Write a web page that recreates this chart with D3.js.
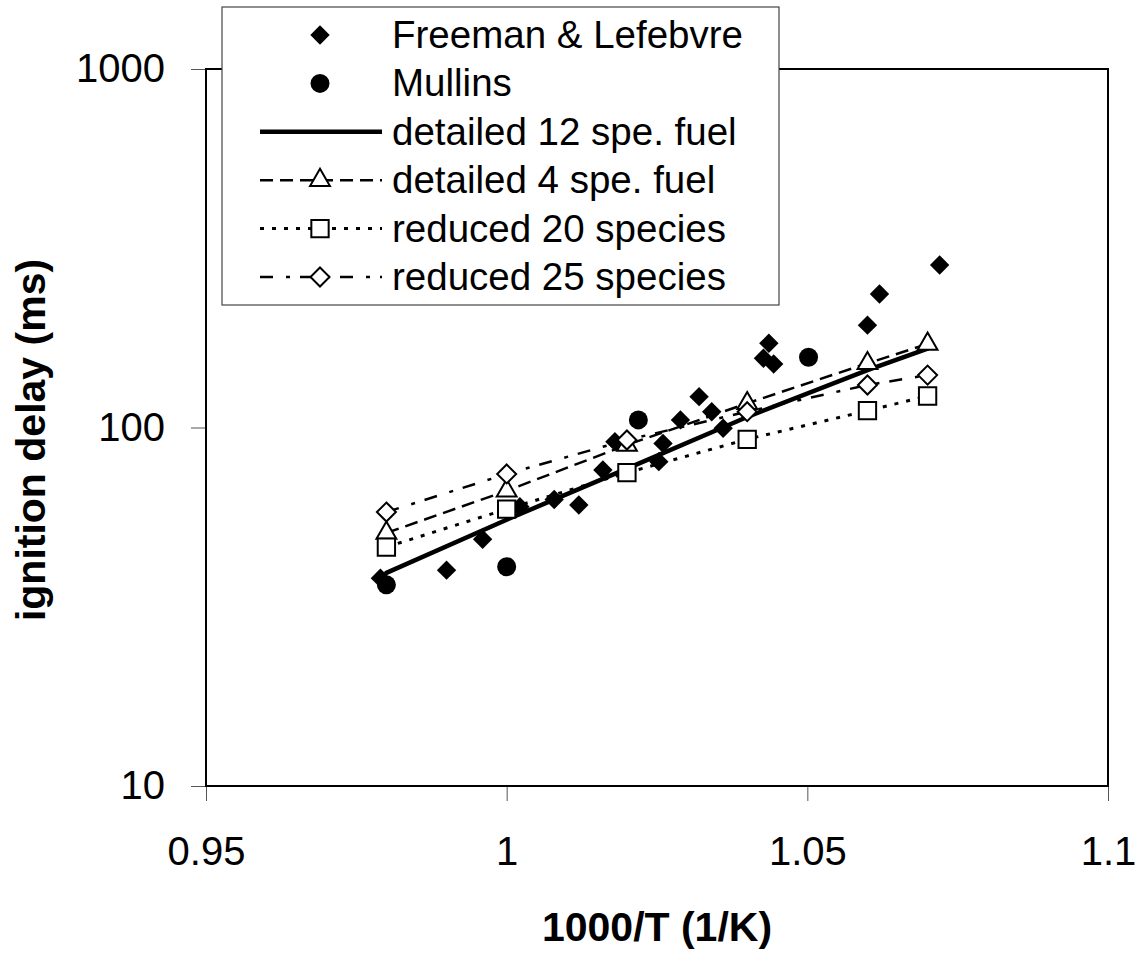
<!DOCTYPE html>
<html>
<head>
<meta charset="utf-8">
<script src="https://cdn.jsdelivr.net/npm/d3@7"></script>
<style>
  body { margin: 0; background: #fff; }
  text { font-family: "Liberation Sans", Arial, sans-serif; fill: #000; }
</style>
</head>
<body>
<svg></svg>
<script>
const freemanX = [0.979, 0.990, 0.996, 1.0022, 1.0079, 1.012, 1.016, 1.018, 1.0253, 1.026, 1.0289, 1.032, 1.0341, 1.036, 1.0427, 1.0436, 1.0444, 1.060, 1.062, 1.072]
const freemanY = [38, 40.0, 48.8, 60.1, 63.0, 60.8, 76.1, 91.3, 80.3, 90.3, 105, 121.9, 110.7, 99.5, 156, 171.8, 150.4, 193, 235.6, 284]

const mullinsX = [0.98, 1.0, 1.0219, 1.0502]
const mullinsY = [36.4, 40.9, 105, 157]

const modelX = [0.98, 1.0, 1.02, 1.04, 1.06, 1.07]
const detailed12 = [39.3, 55.3, 76.8, 107, 144.6, 166]
const detailed4 = [50.8, 66.6, 89.4, 116.8, 151, 171]
const reduced20 = [46.4, 59.2, 74.8, 92.7, 111.4, 122.4]
const reduced25 = [58.1, 74.2, 92.3, 110.7, 131.4, 140]

const xTicks = [0.95, 1, 1.05, 1.1]
const yTicks = [10, 100, 1000]

const legendLabels = ["Freeman & Lefebvre", "Mullins", "detailed 12 spe. fuel", "detailed 4 spe. fuel", "reduced 20 species", "reduced 25 species"]

const svg = d3.select("svg")
    .attr("width", 1143)
    .attr("height", 955)

const scaleX = d3.scaleLinear()
    .domain([0.95, 1.1])
    .range([206, 1108])

const scaleY = d3.scaleLog()
    .domain([10, 1000])
    .range([786, 69])

// ticks (drawn outward, grey)
const xAxis = svg.append("g")
    .attr("transform", "translate(0,786)")
    .call(d3.axisBottom(scaleX).tickValues(xTicks).tickSize(15).tickSizeOuter(0).tickPadding(36).tickFormat(d3.format("")))
xAxis.select(".domain").remove()
xAxis.selectAll("line").attr("stroke", "#555").attr("stroke-width", 1)
xAxis.selectAll("text")
    .attr("font-size", 40)
    .attr("font-family", "Liberation Sans, Arial, sans-serif")
    .attr("dy", "0.71em")

const yAxis = svg.append("g")
    .attr("transform", "translate(206,0)")
    .call(d3.axisLeft(scaleY).tickValues(yTicks).tickSize(15).tickSizeOuter(0).tickPadding(26).tickFormat(d3.format("")))
yAxis.select(".domain").remove()
yAxis.selectAll("line").attr("stroke", "#555").attr("stroke-width", 1)
yAxis.selectAll("text")
    .attr("font-size", 40)
    .attr("font-family", "Liberation Sans, Arial, sans-serif")

// plot frame
svg.append("rect")
    .attr("x", scaleX(0.95))
    .attr("y", scaleY(1000))
    .attr("width", scaleX(1.1) - scaleX(0.95))
    .attr("height", scaleY(10) - scaleY(1000))
    .attr("fill", "none")
    .attr("stroke", "#000")
    .attr("stroke-width", 2)

// axis titles
svg.append("text")
    .attr("x", (scaleX(0.95) + scaleX(1.1)) / 2)
    .attr("y", 941)
    .attr("text-anchor", "middle")
    .attr("font-size", 41)
    .attr("font-weight", "bold")
    .text("1000/T (1/K)")

svg.append("text")
    .attr("transform", "translate(45,440) rotate(-90)")
    .attr("text-anchor", "middle")
    .attr("font-size", 41)
    .attr("font-weight", "bold")
    .text("ignition delay (ms)")

// model lines
const styles = [
    {vals: detailed12, dash: null, width: 4.5, marker: null},
    {vals: detailed4, dash: "13,7", width: 2.5, marker: "triangle"},
    {vals: reduced20, dash: "4,8", width: 3, marker: "square"},
    {vals: reduced25, dash: "13,13,4,10", width: 2.5, marker: "diamond"}
]

const line = d3.line()
    .x((d) => scaleX(d[0]))
    .y((d) => scaleY(d[1]))

const symbolOf = {
    triangle: d3.symbol().type(d3.symbolTriangle).size(170),
    square: d3.symbol().type(d3.symbolSquare).size(300),
    diamond: d3.symbol().type(d3.symbolDiamond2).size(230)
}

// lines first
styles.forEach((s) => {
    const pts = modelX.map((x, i) => [x, s.vals[i]])
    svg.append("path")
        .attr("d", line(pts))
        .attr("fill", "none")
        .attr("stroke", "#000")
        .attr("stroke-width", s.width)
        .attr("stroke-dasharray", s.dash)
        .attr("stroke-linecap", s.dash ? "butt" : "round")
})

// experimental points
svg.selectAll("path.freeman")
    .data(freemanX.map((x, i) => [x, freemanY[i]]))
    .enter()
    .append("path")
    .attr("class", "freeman")
    .attr("d", d3.symbol().type(d3.symbolDiamond2).size(240))
    .attr("transform", (d) => `translate(${scaleX(d[0])},${scaleY(d[1])})`)
    .attr("fill", "#000")

svg.selectAll("circle.mullins")
    .data(mullinsX.map((x, i) => [x, mullinsY[i]]))
    .enter()
    .append("circle")
    .attr("class", "mullins")
    .attr("cx", (d) => scaleX(d[0]))
    .attr("cy", (d) => scaleY(d[1]))
    .attr("r", 9.5)
    .attr("fill", "#000")

// open markers for model series
styles.forEach((s) => {
    if (!s.marker) return
    svg.selectAll("path.m-" + s.marker)
        .data(modelX.map((x, i) => [x, s.vals[i]]))
        .enter()
        .append("path")
        .attr("class", "m-" + s.marker)
        .attr("d", symbolOf[s.marker])
        .attr("transform", (d) => `translate(${scaleX(d[0])},${scaleY(d[1])})`)
        .attr("fill", "#fff")
        .attr("stroke", "#000")
        .attr("stroke-width", 2)
})

// legend
const legend = svg.append("g")
legend.append("rect")
    .attr("x", 222)
    .attr("y", 7)
    .attr("width", 557)
    .attr("height", 298)
    .attr("fill", "#fff")
    .attr("stroke", "#444")
    .attr("stroke-width", 1.2)

const rowY = (i) => 35 + i * 48.4

legendLabels.forEach((label, i) => {
    const y = rowY(i)
    legend.append("text")
        .attr("x", 392)
        .attr("y", y + 13)
        .attr("font-size", 38.5)
        .text(label)
})

legend.append("path")
    .attr("d", d3.symbol().type(d3.symbolDiamond2).size(240))
    .attr("transform", `translate(320,${rowY(0)})`)
    .attr("fill", "#000")
legend.append("circle")
    .attr("cx", 320)
    .attr("cy", rowY(1))
    .attr("r", 9.5)
    .attr("fill", "#000")

styles.forEach((s, j) => {
    const y = rowY(j + 2)
    legend.append("line")
        .attr("x1", 260)
        .attr("x2", 382)
        .attr("y1", y)
        .attr("y2", y)
        .attr("stroke", "#000")
        .attr("stroke-width", s.width)
        .attr("stroke-dasharray", s.dash)
    if (s.marker) {
        legend.append("path")
            .attr("d", symbolOf[s.marker])
            .attr("transform", `translate(320,${y})`)
            .attr("fill", "#fff")
            .attr("stroke", "#000")
            .attr("stroke-width", 2)
    }
})
</script>
</body>
</html>
